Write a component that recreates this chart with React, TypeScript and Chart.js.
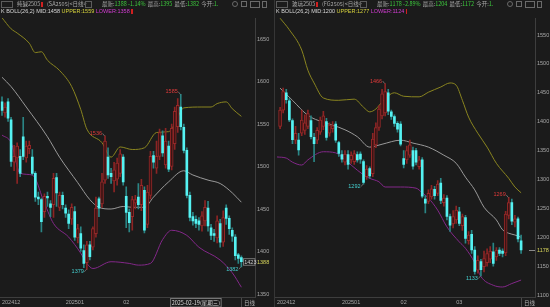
import React, { useEffect, useRef } from 'react';
import { Chart, registerables } from 'chart.js';

Chart.register(...registerables);

const BG = '#1b1b1b';
const FONT = '"Liberation Sans", Arial, sans-serif';
const CJK = '"Noto Sans CJK SC", "Liberation Sans", sans-serif';
const SLOTS = 84;

const monthTickIdx = [0, 21, 40, 58];
const monthTickText = ['202412', '202501', '02', '03'];

// ---- SA2505 (left) ----
const saOpen = [1576,1563,1576,1555,1505,1510,1512,1535,1510,1521, 1511,1492,1464,1461,1447,1465,1456,1455,1487,1452, 1466,1451,1444,1438,1447,1416,1421,1401,1387,1408, 1405,1421,1462,1456,1484,1511,1492,1483,1485,1492, 1511,1465,1446,1441,1457,1464,1455,1472,1432,1466, 1513,1498,1512,1536,1502,1524,1500,1527,1547,1570, 1546,1519,1466,1441,1438,1436,1430,1436,1451,1428, 1421,1416,1433,1411,1451,1439,1425,1417,1396,1393];
const saHigh = [1582,1575,1580,1558,1525,1528,1520,1558,1530,1530, 1520,1494,1470,1463,1468,1470,1460,1492,1492,1470, 1470,1455,1449,1456,1453,1432,1429,1408,1412,1412, 1429,1464,1464,1492,1536,1522,1498,1505,1510,1520, 1514,1476,1450,1465,1466,1480,1485,1476,1478,1518, 1518,1530,1544,1542,1545,1530,1550,1570,1580,1585, 1550,1522,1470,1446,1442,1440,1447,1460,1459,1432, 1426,1442,1438,1448,1455,1442,1428,1420,1398,1395];
const saLow = [1560,1558,1553,1500,1495,1480,1488,1508,1505,1515, 1490,1459,1455,1423,1440,1453,1441,1440,1453,1448, 1450,1440,1427,1432,1413,1410,1400,1381,1379,1390, 1402,1417,1441,1452,1480,1486,1480,1470,1478,1488, 1478,1428,1423,1425,1450,1450,1448,1422,1428,1462, 1498,1492,1508,1512,1498,1494,1496,1520,1540,1543, 1516,1463,1436,1431,1428,1425,1424,1430,1424,1414, 1412,1410,1405,1406,1432,1420,1412,1390,1386,1382];
const saClose = [1566,1570,1557,1506,1512,1524,1492,1512,1524,1525, 1492,1464,1462,1435,1465,1463,1452,1486,1469,1466, 1455,1445,1433,1452,1417,1427,1404,1386,1408,1394, 1427,1451,1451,1482,1530,1490,1488,1496,1504,1515, 1482,1446,1434,1461,1461,1455,1478,1425,1470,1512, 1505,1512,1540,1516,1530,1497,1545,1565,1572,1547, 1519,1466,1440,1436,1433,1432,1442,1452,1430,1419, 1419,1436,1411,1440,1439,1427,1418,1395,1392,1388];
const saUpper: [number, number][] = [[0,1675],[3,1662],[5,1657],[9,1645],[11,1634],[13,1635],[15,1625],[19,1613],[23,1594],[26,1567],[28,1544],[33,1528],[36,1511],[39,1523],[43,1520],[47,1522],[51,1540],[55,1541],[57,1550],[60,1569],[66,1570],[69,1570],[71,1574],[74,1576],[76,1568],[79,1559]];
const saMid: [number, number][] = [[0,1605],[3,1594],[8,1570],[15,1535],[19,1511],[25,1481],[29,1461],[32,1452],[36,1450],[40,1453],[43,1452],[47,1452],[50,1464],[55,1482],[60,1495],[63,1490],[68,1484],[72,1480],[76,1469],[79,1458]];
const saLower: [number, number][] = [[0,1537],[3,1528],[6,1492],[10,1490],[14,1457],[17,1433],[22,1417],[26,1398],[28,1386],[30,1380],[36,1388],[42,1386],[45,1384],[49,1386],[53,1414],[56,1425],[61,1419],[65,1405],[72,1390],[76,1375],[79,1358]];
const saYTicks = [1350, 1400, 1450, 1500, 1550, 1600, 1650];

// ---- FG2505 (right) ----
const fgOpen = [null,1392,1420,1450,1436,1402,1368,1368,1380,1385, 1392,1402,1373,1368,1382,1392,1400,1380,1388,1396, 1364,1343,1330,1343,1334,1331,1343,1344,1331,1305, 1319,1310,1360,1390,1410,1415,1450,1417,1409,1397, 1396,1336,1334,1342,1350,1350,1322,1334,1266,1262, 1270,1283,1276,1294,1260,1268,1236,1223,1230,1244, 1220,1234,1194,1205,1178,1143,1158,1149,1156,1162, 1175,1166,1178,1176,1173,1238,1260,1226,1232,1194];
const fgHigh = [null,1425,1458,1456,1440,1405,1392,1380,1420,1412, 1420,1410,1380,1390,1408,1418,1406,1398,1400,1400, 1366,1350,1350,1350,1348,1350,1348,1348,1334,1324, 1322,1380,1398,1428,1456,1466,1456,1420,1412,1400, 1400,1350,1358,1368,1356,1354,1340,1338,1272,1282, 1290,1288,1298,1302,1274,1272,1240,1246,1254,1252, 1240,1238,1210,1212,1184,1168,1162,1176,1180,1184, 1190,1182,1182,1180,1245,1269,1266,1238,1235,1204];
const fgLow = [null,1388,1415,1432,1400,1362,1362,1342,1376,1378, 1388,1370,1331,1362,1378,1386,1368,1375,1382,1364, 1340,1330,1325,1318,1328,1326,1330,1328,1292,1300, 1302,1305,1355,1385,1405,1410,1412,1404,1392,1382, 1358,1320,1328,1338,1318,1325,1318,1268,1242,1258, 1266,1266,1272,1258,1254,1230,1210,1216,1224,1220, 1212,1190,1188,1172,1136,1138,1133,1140,1150,1156, 1150,1160,1168,1166,1168,1232,1222,1218,1192,1172];
const fgClose = [null,1420,1452,1438,1403,1369,1380,1351,1403,1398, 1414,1374,1362,1385,1403,1410,1373,1394,1393,1368, 1345,1335,1344,1326,1342,1345,1334,1335,1295,1318, 1306,1370,1390,1422,1448,1452,1418,1409,1397,1387, 1361,1326,1350,1360,1323,1330,1334,1271,1259,1276, 1284,1272,1292,1264,1268,1236,1221,1236,1247,1224, 1236,1198,1204,1178,1141,1160,1144,1163,1172,1176, 1155,1178,1172,1172,1240,1260,1228,1232,1197,1178];
const fgUpper: [number, number][] = [[1,1579],[4,1559],[8,1524],[10,1489],[12,1467],[15,1441],[20,1437],[25,1439],[28,1425],[30,1417],[32,1422],[34,1434],[38,1450],[41,1444],[46,1443],[49,1451],[53,1460],[56,1467],[58,1463],[60,1437],[62,1408],[65,1380],[68,1356],[71,1328],[75,1302],[77,1287],[79,1277]];
const fgMid: [number, number][] = [[1,1458],[5,1437],[10,1411],[15,1399],[18,1394],[22,1386],[26,1374],[30,1356],[34,1361],[40,1368],[44,1363],[49,1356],[54,1342],[58,1328],[61,1304],[64,1282],[67,1252],[71,1230],[73,1213],[75,1207],[77,1204],[79,1200]];
const fgLower: [number, number][] = [[0,1339],[3,1337],[5,1330],[8,1325],[10,1334],[15,1348],[19,1346],[21,1339],[24,1325],[28,1308],[30,1302],[33,1296],[35,1287],[40,1287],[45,1285],[47,1277],[49,1268],[52,1247],[55,1218],[59,1192],[61,1181],[64,1156],[66,1132],[70,1117],[73,1114],[76,1120],[79,1126]];
const fgYTicks = [1100, 1150, 1200, 1250, 1300, 1350, 1400, 1450, 1500, 1550];

const RED_TXT = '#e03a3a';
const CYAN_TXT = '#45d0d0';

type Mark = { i: number; v: number; text: string; color: string; up: boolean };
const saMarks: Mark[] = [
  { i: 34, v: 1536, text: '1536', color: RED_TXT, up: true },
  { i: 59, v: 1585, text: '1585', color: RED_TXT, up: true },
  { i: 28, v: 1379, text: '1379', color: CYAN_TXT, up: false },
  { i: 79, v: 1382, text: '1382', color: CYAN_TXT, up: false },
];
const fgMarks: Mark[] = [
  { i: 35, v: 1466, text: '1466', color: RED_TXT, up: true },
  { i: 28, v: 1292, text: '1292', color: CYAN_TXT, up: false },
  { i: 66, v: 1133, text: '1133', color: CYAN_TXT, up: false },
  { i: 75, v: 1269, text: '1269', color: RED_TXT, up: true },
];

type PanelDef = {
  key: string;
  axisW: number;
  yMin: number;
  yMax: number;
  yTicks: number[];
  open: (number | null)[];
  high: (number | null)[];
  low: (number | null)[];
  close: (number | null)[];
  upper: [number, number][];
  mid: [number, number][];
  lower: [number, number][];
  marks: Mark[];
  last: number;
  isLeft: boolean;
};

const sparse = (pts: [number, number][]) => {
  const a: (number | null)[] = new Array(SLOTS).fill(null);
  pts.forEach(([i, v]) => { a[i] = v; });
  return a;
};
const pad = <T,>(arr: T[]) => { const a: (T | null)[] = arr.slice(); while (a.length < SLOTS) a.push(null); return a; };

function overlay(p: PanelDef) {
  return {
    id: 'ov_' + p.key,
    afterDraw(chart: any) {
      const { ctx, chartArea } = chart;
      const xs = chart.scales.x, ys = chart.scales.y;
      ctx.save();
      ctx.textBaseline = 'middle';
      ctx.font = `5.5px ${FONT}`;
      for (const m of p.marks) {
        const px = xs.getPixelForValue(m.i);
        const py = ys.getPixelForValue(m.v);
        const ty = m.up ? py - 2.5 : py + 2.5;
        ctx.strokeStyle = '#8c8c8c';
        ctx.lineWidth = 0.7;
        ctx.beginPath();
        ctx.moveTo(px - 0.5, py);
        ctx.lineTo(px - 2.5, ty);
        ctx.stroke();
        ctx.fillStyle = m.color;
        ctx.textAlign = 'right';
        ctx.fillText(m.text, px - 3, ty);
      }
      const lp = ys.getPixelForValue(p.last);
      ctx.textAlign = 'left';
      ctx.fillStyle = '#d6d45a';
      ctx.font = `5.5px ${FONT}`;
      ctx.fillText(String(p.last), chartArea.right + 2, lp + 0.5);
      if (p.isLeft) {
        const bx = chartArea.right - 12, by = lp - 3.5;
        ctx.fillStyle = BG;
        ctx.fillRect(bx, by, 12, 7);
        ctx.strokeStyle = '#8a8a8a';
        ctx.lineWidth = 0.8;
        ctx.strokeRect(bx + 0.5, by + 0.5, 11.5, 6.5);
        ctx.fillStyle = '#d0d0d0';
        ctx.fillText('1423', bx + 1.2, lp + 0.5);
        const cx = xs.getPixelForValue(64);
        ctx.font = `5.5px ${CJK}`;
        const t = '2025-02-19(星期三)';
        const w = ctx.measureText(t).width + 3;
        const top = chartArea.bottom + 1;
        ctx.fillStyle = BG;
        ctx.fillRect(cx - w / 2, top, w, 9);
        ctx.strokeStyle = '#8a8a8a';
        ctx.strokeRect(cx - w / 2 + 0.5, top + 0.5, w - 1, 8.5);
        ctx.fillStyle = '#d8d8d8';
        ctx.textAlign = 'center';
        ctx.fillText(t, cx, top + 5);
      } else {
        ctx.strokeStyle = '#8a8a8a';
        ctx.lineWidth = 1;
        ctx.beginPath();
        ctx.moveTo(chartArea.right - 6, Math.round(lp) + 0.5);
        ctx.lineTo(chartArea.right, Math.round(lp) + 0.5);
        ctx.stroke();
      }
      ctx.font = `5.5px ${CJK}`;
      ctx.fillStyle = '#b0b0b0';
      ctx.textAlign = 'left';
      ctx.fillText('日线', chartArea.right - 11, chartArea.bottom + 5.5);
      ctx.strokeStyle = '#4a4a4a';
      ctx.lineWidth = 1;
      ctx.beginPath();
      ctx.moveTo(chartArea.right - 13.5, chartArea.bottom + 1);
      ctx.lineTo(chartArea.right - 13.5, chartArea.bottom + 10);
      ctx.stroke();
      ctx.restore();
    },
  };
}

function buildConfig(p: PanelDef): any {
  const labels = Array.from({ length: SLOTS }, (_, i) => String(i));
  const open = pad(p.open), high = pad(p.high), low = pad(p.low), close = pad(p.close);
  const wick = open.map((o, i) => (o == null ? null : [low[i] as number, high[i] as number]));
  const wickColor = open.map((o, i) => (o == null ? 'rgba(0,0,0,0)' : (close[i] as number) > o ? '#8c2424' : '#2a8585'));
  const upBody = open.map((o, i) => (o != null && (close[i] as number) > o ? [o, close[i] as number] : null));
  const dnBody = open.map((o, i) => (o != null && (close[i] as number) <= o ? [close[i] as number, o] : null));
  const tickMap: Record<number, string> = {};
  monthTickIdx.forEach((ix, k) => { tickMap[ix] = monthTickText[k]; });
  const line = (data: (number | null)[], color: string) => ({
    type: 'line', data, borderColor: color, borderWidth: 1, pointRadius: 0,
    spanGaps: true, cubicInterpolationMode: 'monotone', order: 5, fill: false,
  });
  return {
    type: 'bar',
    data: {
      labels,
      datasets: [
        line(sparse(p.upper), '#8a8520'),
        line(sparse(p.mid), '#9a9a9a'),
        line(sparse(p.lower), '#84288a'),
        { type: 'bar', data: wick, backgroundColor: wickColor, barThickness: 1, grouped: false, order: 3 },
        { type: 'bar', data: upBody, backgroundColor: '#3a1414', borderColor: '#962828', borderWidth: 1, borderSkipped: false, barThickness: 3, grouped: false, order: 2 },
        { type: 'bar', data: dnBody, backgroundColor: '#55f2f2', barThickness: 2, grouped: false, minBarLength: 1, order: 1 },
      ],
    },
    options: {
      animation: false,
      responsive: false,
      devicePixelRatio: 1,
      events: [],
      layout: { padding: { top: 18, left: 0, right: 0, bottom: 0 } },
      plugins: { legend: { display: false }, tooltip: { enabled: false } },
      scales: {
        x: {
          type: 'category',
          offset: true,
          grid: { display: false, drawTicks: false },
          border: { display: true, color: '#3e3e3e' },
          afterFit: (ax: any) => { ax.height = 10; },
          ticks: {
            autoSkip: false, maxRotation: 0, minRotation: 0, align: 'start', padding: 2,
            color: '#a8a8a8', font: { size: 5.5, family: FONT },
            callback: (_v: any, idx: number) => tickMap[idx] ?? '',
          },
        },
        y: {
          position: 'right',
          min: p.yMin,
          max: p.yMax,
          afterBuildTicks: (ax: any) => { ax.ticks = p.yTicks.map((v) => ({ value: v })); },
          afterFit: (ax: any) => { ax.width = p.axisW; },
          grid: { display: false, drawTicks: false },
          border: { display: true, color: '#3e3e3e' },
          ticks: {
            color: '#a8a8a8', padding: 2, font: { size: 5.5, family: FONT },
            callback: (v: any) => String(v),
          },
        },
      },
    },
    plugins: [overlay(p)],
  };
}

function Panel({ def, left }: { def: PanelDef; left: number }) {
  const ref = useRef<HTMLCanvasElement>(null);
  useEffect(() => {
    const chart = new Chart(ref.current as HTMLCanvasElement, buildConfig(def));
    return () => chart.destroy();
  }, []);
  return (
    <canvas ref={ref} width={275} height={307}
      style={{ position: 'absolute', left, top: 0, width: 275, height: 307 }} />
  );
}

function T({ x, y, c, f = FONT, children }: { x: number; y: number; c: string; f?: string; children: any }) {
  return (
    <span style={{ position: 'absolute', left: x, top: y, color: c, fontFamily: f, fontSize: 5.5, lineHeight: '7px', whiteSpace: 'nowrap' }}>
      {children}
    </span>
  );
}

function Header({ x0, name, code, last, chg, hi, lo, mid, up, dn }: any) {
  const G = '#a8a8a8', GR = '#3cc83c';
  return (
    <>
      <div style={{ position: 'absolute', left: x0 + 1, top: 1, width: 12, height: 7, border: '1px solid #5c5c5c', boxSizing: 'border-box' }} />
      <T x={x0 + 17} y={1} c={G} f={CJK}>{name}</T>
      <div style={{ position: 'absolute', left: x0 + 41, top: 2, width: 2, height: 5, background: '#d02020' }} />
      <T x={x0 + 47} y={1} c={G} f={CJK}>{`(${code})<日线>`}</T>
      <div style={{ position: 'absolute', left: x0 + 85, top: 1, width: 7, height: 7, border: '1px solid #5c5c5c', boxSizing: 'border-box' }} />
      <div style={{ position: 'absolute', left: x0 + 102, top: 1, display: 'flex', gap: 2, fontFamily: CJK, fontSize: 5.5, lineHeight: '7px', whiteSpace: 'nowrap' }}>
        <span style={{ color: G }}>最新:<span style={{ color: GR }}>{last} {chg}</span></span>
        <span style={{ color: G }}>最高:<span style={{ color: GR }}>{hi}</span></span>
        <span style={{ color: G }}>最低:<span style={{ color: GR }}>{lo}</span></span>
        <span style={{ color: G }}>今开:<span style={{ color: GR }}>1.</span></span>
      </div>
      <div style={{ position: 'absolute', left: x0 + 232, top: 1, width: 6, height: 6, border: '1px solid #6a6a6a', borderRadius: 3, boxSizing: 'border-box' }} />
      <div style={{ position: 'absolute', left: x0 + 241, top: 1, width: 6, height: 6, border: '1px solid #6a6a6a', boxSizing: 'border-box' }} />
      <div style={{ position: 'absolute', left: x0 + 250, top: 1, width: 10, height: 7, border: '1px solid #6a6a6a', boxSizing: 'border-box' }} />
      <div style={{ position: 'absolute', left: x0 + 262, top: 1, width: 5, height: 7, border: '1px solid #6a6a6a', boxSizing: 'border-box' }} />
      <div style={{ position: 'absolute', left: x0 + 1, top: 8, display: 'flex', gap: 1.5, fontFamily: FONT, fontSize: 5.5, lineHeight: '7px', whiteSpace: 'nowrap' }}>
        <span style={{ color: '#d8d8d8' }}>K BOLL(26,2) MID:{mid}</span>
        <span style={{ color: '#d4d03c' }}>UPPER:{up}</span>
        <span style={{ color: '#d23cd2' }}>LOWER:{dn}</span>
        <span style={{ width: 1.5, height: 5, marginTop: 1, background: '#d02020' }} />
      </div>
    </>
  );
}

const leftDef: PanelDef = {
  key: 'sa', axisW: 20, yMin: 1346.5, yMax: 1674.7, yTicks: saYTicks,
  open: saOpen, high: saHigh, low: saLow, close: saClose,
  upper: saUpper, mid: saMid, lower: saLower, marks: saMarks, last: 1388, isLeft: true,
};
const rightDef: PanelDef = {
  key: 'fg', axisW: 15, yMin: 1096.7, yMax: 1579.4, yTicks: fgYTicks,
  open: fgOpen, high: fgHigh, low: fgLow, close: fgClose,
  upper: fgUpper, mid: fgMid, lower: fgLower, marks: fgMarks, last: 1178, isLeft: false,
};

export default function App() {
  useEffect(() => {
    document.body.style.margin = '0';
    document.body.style.background = BG;
  }, []);
  return (
    <div style={{ position: 'fixed', left: 0, top: 0, width: 550, height: 307, background: BG, overflow: 'hidden' }}>
      <Panel def={leftDef} left={0} />
      <Panel def={rightDef} left={275} />
      <div style={{ position: 'absolute', left: 274, top: 0, width: 1, height: 307, background: '#363636' }} />
      <Header x0={0} name="纯碱2505" code="SA2505" last={1388} chg="-1.14%" hi={1395} lo={1382} mid={1458} up={1559} dn={1358} />
      <Header x0={275} name="玻璃2505" code="FG2505" last={1178} chg="-2.89%" hi={1204} lo={1172} mid={1200} up={1277} dn={1124} />
    </div>
  );
}
